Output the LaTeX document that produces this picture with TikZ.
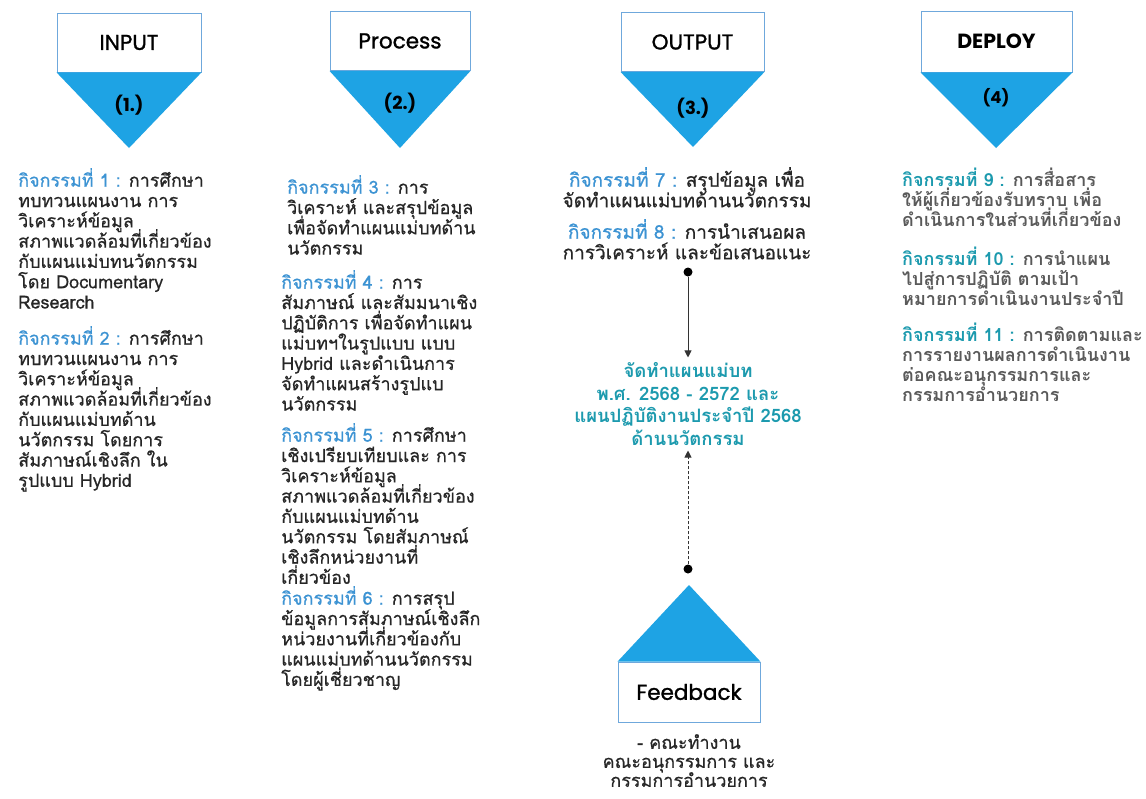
\documentclass[tikz,border=0pt]{standalone}
\usepackage{fontspec}
\setmainfont{Loma}[Script=Thai]
\newfontfamily\thai[Script=Thai,FakeBold=0.6]{Loma}
\newfontfamily\thaib[Script=Thai]{Loma}
\newfontfamily\pop{Poppins}[FakeBold=1.2]
\newfontfamily\popb{Poppins}
\usetikzlibrary{arrows.meta}
\definecolor{triblue}{HTML}{1EA3E4}
\definecolor{boxline}{HTML}{6FA8DC}
\definecolor{actblue}{HTML}{3C93D3}
\definecolor{tealtxt}{HTML}{1C9AAE}
\definecolor{bodytxt}{HTML}{262626}
\definecolor{graytxt}{HTML}{5A5A5A}
\newcommand{\tight}{\lineskiplimit=-50pt\lineskip=0pt}
\tikzset{
  hbox/.style={draw=boxline, line width=0.9pt, fill=white, minimum width=144pt, minimum height=59pt, inner sep=0pt, font=\pop\fontsize{21.5}{21.5}\selectfont},
  numlbl/.style={inner sep=0pt, font=\popb\bfseries\fontsize{18}{18}\selectfont},
  para/.style={anchor=north west, inner sep=0pt, align=left, text=bodytxt, font=\thai\fontsize{18}{20.3}\selectfont\tight},
  cpara/.style={anchor=north, inner sep=0pt, align=center, text=bodytxt, font=\thai\fontsize{19}{20.5}\selectfont\tight},
  dpara/.style={anchor=north west, inner sep=0pt, align=left, text=graytxt, font=\thaib\bfseries\fontsize{18}{20}\selectfont\tight},
  dot/.style={circle, fill=black, inner sep=0pt, minimum size=9pt},
  conn/.style={draw=black!80, line width=0.9pt, -{Triangle[length=7pt,width=7pt]}},
}
\newcommand{\act}[1]{{\color{actblue}#1}}
\newcommand{\dact}[1]{{\color{tealtxt}#1}}
\begin{document}
\begin{tikzpicture}[x=1pt,y=-1pt]
\useasboundingbox[fill=white] (0,0) rectangle (1146,798);
% headers
\node[hbox] (inbox) at (129,42.5) {INPUT};
\coordinate (intip) at (129,148);
\fill[triblue] (inbox.south west) -- (inbox.south east) -- (intip) -- cycle;
\node[numlbl] (innum) at (129,105) {(1.)};

\node[hbox, minimum width=140pt] (prbox) at (400,41) {Process};
\coordinate (prtip) at (400,148);
\fill[triblue] (prbox.south west) -- (prbox.south east) -- (prtip) -- cycle;
\node[numlbl] (prnum) at (400,103) {(2.)};

\node[hbox, minimum width=143pt] (outbox) at (692.5,42) {OUTPUT};
\coordinate (outtip) at (693,147);
\fill[triblue] (outbox.south west) -- (outbox.south east) -- (outtip) -- cycle;
\node[numlbl] (outnum) at (693,108) {(3.)};

\node[hbox, minimum width=151pt, minimum height=61pt, font=\popb\bfseries\fontsize{20.5}{20.5}\selectfont] (depbox) at (996.5,41.5) {DEPLOY};
\coordinate (deptip) at (996,148);
\fill[triblue] (depbox.south west) -- (depbox.south east) -- (deptip) -- cycle;
\node[numlbl, font=\popb\bfseries\fontsize{16.5}{16.5}\selectfont] (depnum) at (996,98) {(4)};

% column 1
\node[para] (a1) at (18,168) {\act{กิจกรรมที่ 1 :} การศึกษา\\
ทบทวนแผนงาน การ\\
วิเคราะห์ข้อมูล\\
สภาพแวดล้อมที่เกี่ยวข้อง\\
กับแผนแม่บทนวัตกรรม\\
โดย Documentary\\
Research};
\node[para] (a2) at (18,326) {\act{กิจกรรมที่ 2 :} การศึกษา\\
ทบทวนแผนงาน การ\\
วิเคราะห์ข้อมูล\\
สภาพแวดล้อมที่เกี่ยวข้อง\\
กับแผนแม่บทด้าน\\
นวัตกรรม โดยการ\\
สัมภาษณ์เชิงลึก ใน\\
รูปแบบ Hybrid};

% column 2
\node[para] (a3) at (287,175) {\act{กิจกรรมที่ 3 :} การ\\
วิเคราะห์ และสรุปข้อมูล\\
เพื่อจัดทำแผนแม่บทด้าน\\
นวัตกรรม};
\node[para] (a4) at (281,270) {\act{กิจกรรมที่ 4 :} การ\\
สัมภาษณ์ และสัมมนาเชิง\\
ปฏิบัติการ เพื่อจัดทำแผน\\
แม่บทฯในรูปแบบ แบบ\\
Hybrid และดำเนินการ\\
จัดทำแผนสร้างรูปแบ\\
นวัตกรรม};
\node[para] (a5) at (281,423) {\act{กิจกรรมที่ 5 :} การศึกษา\\
เชิงเปรียบเทียบและ การ\\
วิเคราะห์ข้อมูล\\
สภาพแวดล้อมที่เกี่ยวข้อง\\
กับแผนแม่บทด้าน\\
นวัตกรรม โดยสัมภาษณ์\\
เชิงลึกหน่วยงานที่\\
เกี่ยวข้อง};
\node[para] (a6) at (281,586) {\act{กิจกรรมที่ 6 :} การสรุป\\
ข้อมูลการสัมภาษณ์เชิงลึก\\
หน่วยงานที่เกี่ยวข้องกับ\\
แผนแม่บทด้านนวัตกรรม\\
โดยผู้เชี่ยวชาญ};

% column 3
\node[cpara] (a7) at (687,167) {\act{กิจกรรมที่ 7 :} สรุปข้อมูล เพื่อ\\
จัดทำแผนแม่บทด้านนวัตกรรม};
\node[cpara] (a8) at (687,219) {\act{กิจกรรมที่ 8 :} การนำเสนอผล\\
การวิเคราะห์ และข้อเสนอแนะ};
\node[dot] (d1) at (688,272) {};
\node[cpara, anchor=center, text=tealtxt, font=\thaib\bfseries\fontsize{18.5}{22.5}\selectfont\tight, inner ysep=5pt] (plan) at (688,404) {จัดทำแผนแม่บท\\
พ.ศ. 2568 - 2572 และ\\
แผนปฏิบัติงานประจำปี 2568\\
ด้านนวัตกรรม};
\draw[conn] (d1) -- (plan.north);
\node[dot] (d2) at (688,569) {};
\draw[conn, densely dashed] (d2) -- (plan.south);

% feedback
\node[hbox, minimum width=142pt, minimum height=60pt] (fbbox) at (689,692) {Feedback};
\coordinate (fbtip) at (689,585);
\fill[triblue] (fbbox.north west) -- (fbbox.north east) -- (fbtip) -- cycle;
\node[cpara, font=\thai\fontsize{18}{19}\selectfont\tight] (fbtxt) at (689,734) {- คณะทำงาน\\
คณะอนุกรรมการ และ\\
กรรมการอำนวยการ};

% column 4
\node[dpara] (a9) at (902,168) {\dact{กิจกรรมที่ 9 :} การสื่อสาร\\
ให้ผู้เกี่ยวข้องรับทราบ เพื่อ\\
ดำเนินการในส่วนที่เกี่ยวข้อง};
\node[dpara] (a10) at (902,247) {\dact{กิจกรรมที่ 10 :} การนำแผน\\
ไปสู่การปฏิบัติ ตามเป้า\\
หมายการดำเนินงานประจำปี};
\node[dpara] (a11) at (902,323) {\dact{กิจกรรมที่ 11 :} การติดตามและ\\
การรายงานผลการดำเนินงาน\\
ต่อคณะอนุกรรมการและ\\
กรรมการอำนวยการ};
\end{tikzpicture}
\end{document}
